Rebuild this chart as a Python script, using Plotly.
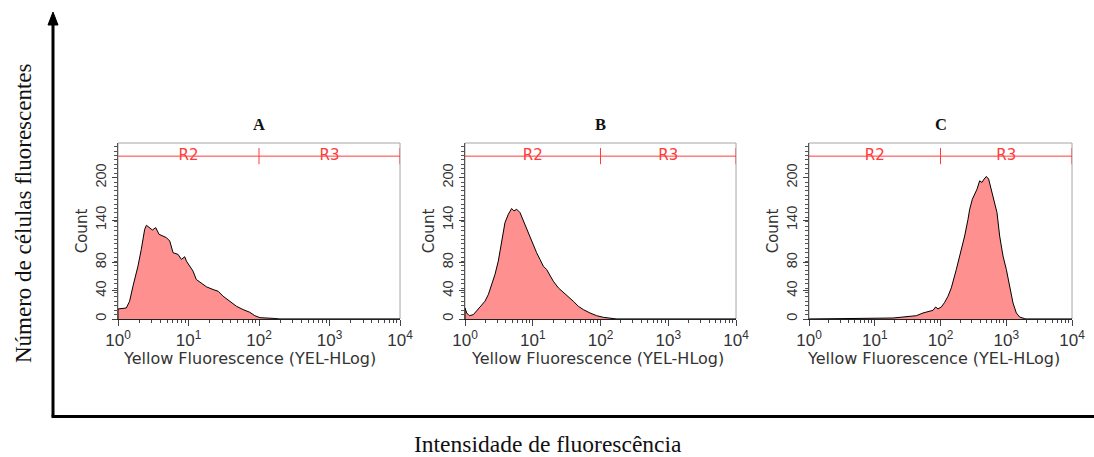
import plotly.graph_objects as go

# Yellow fluorescence (YEL-HLog) channel values and cell counts for each sample
fluor_a = [1.0, 1.0, 1.31, 1.46, 1.63, 1.92, 2.14, 2.39, 2.53, 2.75, 3.07, 3.43, 3.82,
           4.86, 5.42, 6.04, 7.11, 7.93, 8.85, 9.34, 11.6, 12.9, 15.3, 18.0, 22.3,
           26.3, 31.0, 38.5, 47.9, 59.6, 74.1, 87.3, 103, 159, 198, 10000]
count_a = [0, 14.2, 15.6, 25.1, 46.4, 74.8, 98.5, 126.9, 132.6, 129.3, 125.9, 129.3,
           119.8, 115.1, 110.3, 93.8, 91.4, 84.3, 88.1, 81.9, 67.7, 55.9, 50.2, 45.5,
           41.7, 39.3, 32.2, 25.1, 18.0, 13.3, 9.5, 4.7, 1.9, 0.9, 0, 0]

fluor_b = [1.0, 1.0, 1.06, 1.16, 1.33, 1.57, 1.76, 1.97, 2.21, 2.47, 2.77, 3.10, 3.48,
           3.89, 4.36, 4.88, 5.29, 5.79, 6.48, 7.26, 8.13, 9.11, 10.2, 11.4, 12.8, 14.3,
           16.0, 18.0, 20.1, 23.9, 28.3, 33.5, 39.7, 47.1, 55.8, 70.0, 87.8, 110, 138,
           173, 10000]
count_b = [0, 15.6, 8.5, 4.7, 6.2, 14.2, 20.4, 25.1, 34.6, 48.8, 63.0, 81.9, 108.0,
           136.4, 148.2, 156.3, 152.9, 155.3, 150.6, 138.7, 126.9, 115.1, 105.6, 93.8,
           84.3, 74.8, 70.1, 60.6, 53.5, 44.0, 37.9, 31.2, 25.1, 18.0, 13.3, 8.5, 4.7,
           2.4, 0.9, 0, 0]

fluor_c = [1.0, 10.6, 19.0, 26.9, 34.0, 42.9, 54.2, 68.4, 76.9, 84.4, 91.6, 103, 116,
           130, 146, 174, 208, 233, 262, 278, 305, 331, 359, 394, 428, 459, 498, 540,
           593, 667, 723, 794, 893, 1003, 1127, 1267, 1424, 1600, 1905, 2022, 10000]
count_c = [0, 0.9, 1.4, 2.8, 3.8, 4.7, 8.5, 10.4, 12.3, 17.0, 14.2, 17.0, 23.7, 32.2,
           44.0, 70.1, 98.5, 117.4, 141.1, 155.3, 169.5, 176.6, 183.7, 195.5, 193.2,
           197.9, 201.7, 197.9, 183.7, 164.8, 150.6, 117.4, 89.0, 70.1, 46.4, 22.7,
           8.5, 2.8, 0.5, 0, 0]

panel_names = ["A", "B", "C"]
x_title = "Yellow Fluorescence (YEL-HLog)"
y_title = "Count"

# Region gates R2 / R3 on the fluorescence axis
gate_edges = [1, 100, 10000]
gate_names = ["R2", "R3"]
gate_label_x = [10, 1000]
gate_level = 230.4
gate_bar = [219, 242]

# Axis ticks
x_tickvals = [1, 10, 100, 1000, 10000]
x_ticktext = ["10<sup>0</sup>", "10<sup>1</sup>", "10<sup>2</sup>",
              "10<sup>3</sup>", "10<sup>4</sup>"]
x_minor = [m * 10 ** d for d in range(4) for m in range(2, 10)]
y_tickvals = [0, 40, 80, 140, 200]
y_range = [0, 249]

W, H = 1094, 457


def px(x):
    return x / W


def py(y):
    return 1 - y / H


# pixel extents of the three histogram boxes and their x-title centres
boxes = [(118, 400), (465, 736), (809, 1072)]
x_title_centres = [249, 597, 933]
box_top, box_bottom = 143, 319

series = [(fluor_a, count_a), (fluor_b, count_b), (fluor_c, count_c)]

SANS = "DejaVu Sans"
TICK = "Liberation Sans, Arial, sans-serif"
SERIF = "Liberation Serif, Times New Roman, serif"
RED = "#ff3b3b"

fig = go.Figure()
shapes = []
annotations = []

for i, ((fx, fy), (bx0, bx1), name, tcx) in enumerate(
        zip(series, boxes, panel_names, x_title_centres)):
    k = "" if i == 0 else str(i + 1)
    xa, ya = "x" + k, "y" + k

    # filled histogram outline
    fig.add_trace(go.Scatter(
        x=fx, y=fy, mode="lines", xaxis=xa, yaxis=ya,
        line=dict(color="#000000", width=1),
        fill="tozeroy", fillcolor="#ff9090",
        hoverinfo="skip", showlegend=False,
    ))

    # gate markers
    gx, gy = [], []
    gx += [gate_edges[0], gate_edges[-1], None]
    gy += [gate_level, gate_level, None]
    for e in gate_edges[1:]:
        gx += [e, e, None]
        gy += [gate_bar[0], gate_bar[1], None]
    fig.add_trace(go.Scatter(
        x=gx, y=gy, mode="lines", xaxis=xa, yaxis=ya,
        line=dict(color=RED, width=1), cliponaxis=False,
        hoverinfo="skip", showlegend=False,
    ))
    fig.add_trace(go.Scatter(
        x=gate_label_x, y=[gate_level] * len(gate_names), text=gate_names,
        mode="text", xaxis=xa, yaxis=ya, cliponaxis=False,
        textfont=dict(family=SANS, size=15, color=RED),
        textposition="middle center", hoverinfo="skip", showlegend=False,
    ))

    fig.update_layout(**{
        "xaxis" + k: dict(
            domain=[px(bx0), px(bx1)], anchor=ya, type="log", range=[0, 4],
            automargin=False,
            tickmode="array", tickvals=x_tickvals, ticktext=x_ticktext,
            ticks="outside", ticklen=6, tickcolor="#444", tickwidth=1,
            minor=dict(tickmode="array", tickvals=x_minor, ticks="outside",
                       ticklen=3, tickcolor="#444", tickwidth=1),
            showline=True, linecolor="#222", linewidth=1,
            showgrid=False, zeroline=False,
            tickfont=dict(family=TICK, size=17, color="#333"),
        ),
        "yaxis" + k: dict(
            domain=[py(box_bottom), py(box_top)], anchor=xa, range=y_range,
            automargin=False,
            tickmode="array", tickvals=y_tickvals, tickangle=-90,
            ticks="outside", ticklen=5, tickcolor="#444", tickwidth=1,
            minor=dict(tickmode="linear", tick0=0, dtick=6.25, ticks="outside",
                       ticklen=3, tickcolor="#555", tickwidth=1),
            showline=True, linecolor="#555", linewidth=1,
            showgrid=False, zeroline=False,
            tickfont=dict(family=TICK, size=14.5, color="#333"),
            title=dict(text=y_title, standoff=1,
                       font=dict(family=SANS, size=15, color="#333")),
        ),
    })

    # light frame around the plotting area
    shapes.append(dict(type="rect", xref=xa + " domain", yref=ya + " domain",
                       x0=0, x1=1, y0=0, y1=1, layer="below",
                       line=dict(color="#a6a6a6", width=1)))

    annotations.append(dict(
        text="<b>" + name + "</b>", x=px((bx0 + bx1) / 2), y=py(125),
        xref="paper", yref="paper",
        xanchor="center", yanchor="middle", showarrow=False,
        font=dict(family=SERIF, size=16.5, color="#111"),
    ))
    annotations.append(dict(
        text=x_title, x=px(tcx), y=py(358), xref="paper", yref="paper",
        xanchor="center", yanchor="middle", showarrow=False,
        font=dict(family=SANS, size=16, color="#333"),
    ))

# outer axes with arrow
ax_x, ax_bottom, ax_top = 53, 416.5, 22
shapes.append(dict(type="line", xref="paper", yref="paper",
                   x0=px(ax_x), x1=px(ax_x), y0=py(ax_bottom), y1=py(ax_top),
                   line=dict(color="#000", width=3)))
shapes.append(dict(type="line", xref="paper", yref="paper",
                   x0=px(ax_x - 1.5), x1=1, y0=py(ax_bottom), y1=py(ax_bottom),
                   line=dict(color="#000", width=3)))
shapes.append(dict(type="path", xref="paper", yref="paper",
                   path=(f"M {px(ax_x)} {py(12)} L {px(ax_x - 5)} {py(25)} "
                         f"L {px(ax_x + 5)} {py(25)} Z"),
                   fillcolor="#000", line=dict(color="#000", width=1)))

annotations.append(dict(
    text="Número de células fluorescentes", x=px(23), y=py(213),
    xref="paper", yref="paper", xanchor="center", yanchor="middle",
    textangle=-90, showarrow=False,
    font=dict(family=SERIF, size=23, color="#111"),
))
annotations.append(dict(
    text="Intensidade de fluorescência", x=px(548), y=py(444),
    xref="paper", yref="paper", xanchor="center", yanchor="middle",
    showarrow=False, font=dict(family=SERIF, size=23.5, color="#111"),
))

fig.update_layout(
    width=W, height=H, margin=dict(l=0, r=0, t=0, b=0, autoexpand=False),
    paper_bgcolor="white", plot_bgcolor="white",
    shapes=shapes, annotations=annotations, showlegend=False,
)

fig.write_html("out.html")
